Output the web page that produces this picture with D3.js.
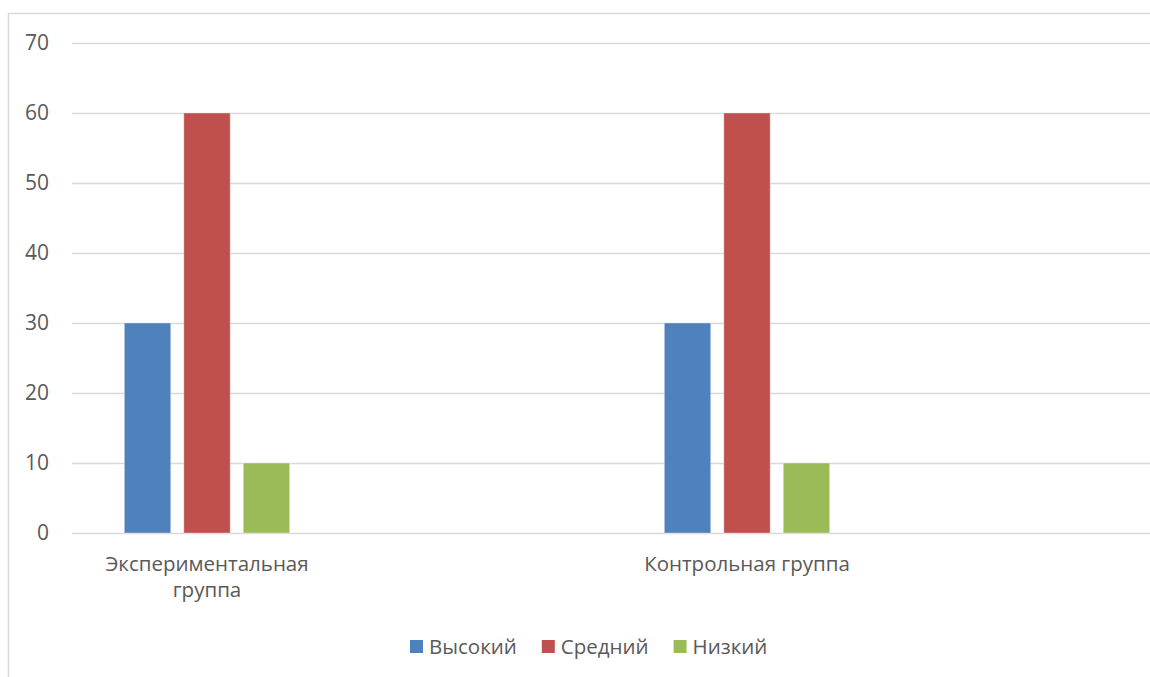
<!DOCTYPE html>
<html>
<head>
<meta charset="utf-8">
<script src="https://cdn.jsdelivr.net/npm/d3@7"></script>
<style>
  html, body { margin: 0; padding: 0; background: #fff; }
  svg { display: block; }
  text { font-family: "Open Sans", "Noto Sans", sans-serif; fill: #595959; }
</style>
</head>
<body>
<svg id="chart" width="1150" height="677"></svg>
<script>
// Category slots along the x axis (empty names keep blank slots between groups)
const categories = ["Экспериментальная группа", "", "Контрольная группа", ""];
const seriesNames = ["Высокий", "Средний", "Низкий"];
const seriesColors = ["#4f81bd", "#c0504d", "#9bbb59"];
const highValues = [30, null, 30, null];
const mediumValues = [60, null, 60, null];
const lowValues = [10, null, 10, null];
const yTicks = [0, 10, 20, 30, 40, 50, 60, 70];

const seriesValues = [highValues, mediumValues, lowValues];

const svg = d3.select("#chart");
const margin = { left: 72, right: -2, top: 43, bottom: 144 };
const W = 1150, H = 677;

// Outer chart frame
svg.append("rect")
  .attr("x", 8.5).attr("y", 13.5)
  .attr("width", 1200).attr("height", 700)
  .attr("fill", "#fff").attr("stroke", "#d9d9d9").attr("stroke-width", 1.5);

const x = d3.scaleBand()
  .domain(d3.range(categories.length))
  .range([margin.left, W - margin.right]);

const y = d3.scaleLinear()
  .domain([0, 70])
  .range([H - margin.bottom, margin.top]);

// Horizontal gridlines and value labels
const yAxis = d3.axisLeft(y).tickValues(yTicks).tickSize(-(x.range()[1] - x.range()[0])).tickPadding(23);
const gy = svg.append("g").attr("transform", `translate(${margin.left},0)`).call(yAxis);
gy.select(".domain").remove();
gy.selectAll(".tick line").attr("stroke", "#d9d9d9").attr("stroke-width", 1.5);
gy.selectAll(".tick text").attr("fill", "#595959").style("font-size", "21px")
  .style("font-family", "\"Open Sans\", sans-serif");

// Bars within each category slot
const inner = d3.scaleBand()
  .domain(d3.range(seriesNames.length))
  .range([0, x.bandwidth()])
  .paddingInner(0.22)
  .paddingOuter(0.88);

seriesValues.forEach((vals, si) => {
  svg.append("g").selectAll("rect")
    .data(vals.map((v, ci) => ({ v, ci })).filter(d => d.v != null))
    .join("rect")
    .attr("x", d => x(d.ci) + inner(si))
    .attr("width", inner.bandwidth())
    .attr("y", d => y(d.v))
    .attr("height", d => y(0) - y(d.v))
    .attr("fill", seriesColors[si])
    .attr("stroke", "#ffffff").attr("stroke-opacity", 0.35).attr("stroke-width", 1);
});

// Category labels, wrapped to fit the slot width
categories.forEach((name, ci) => {
  if (!name) return;
  const t = svg.append("text")
    .attr("x", x(ci) + x.bandwidth() / 2)
    .attr("y", 571)
    .attr("text-anchor", "middle")
    .style("font-size", "20.5px");
  const words = name.split(" ");
  const lines = [];
  let cur = "";
  words.forEach(w => {
    const test = cur ? cur + " " + w : w;
    t.text(test);
    if (t.node().getComputedTextLength() > 250 && cur) { lines.push(cur); cur = w; }
    else cur = test;
  });
  lines.push(cur);
  t.text(null);
  lines.forEach((l, i) => t.append("tspan").attr("x", x(ci) + x.bandwidth() / 2).attr("dy", i ? 26 : 0).text(l));
});

// Legend
const legend = svg.append("g");
let lx = 410;
seriesNames.forEach((name, i) => {
  legend.append("rect").attr("x", lx).attr("y", 640).attr("width", 13).attr("height", 13).attr("fill", seriesColors[i]);
  const t = legend.append("text").attr("x", lx + 19).attr("y", 654).style("font-size", "20.5px").text(name);
  lx += 19 + t.node().getComputedTextLength() + 25;
});
</script>
</body>
</html>
